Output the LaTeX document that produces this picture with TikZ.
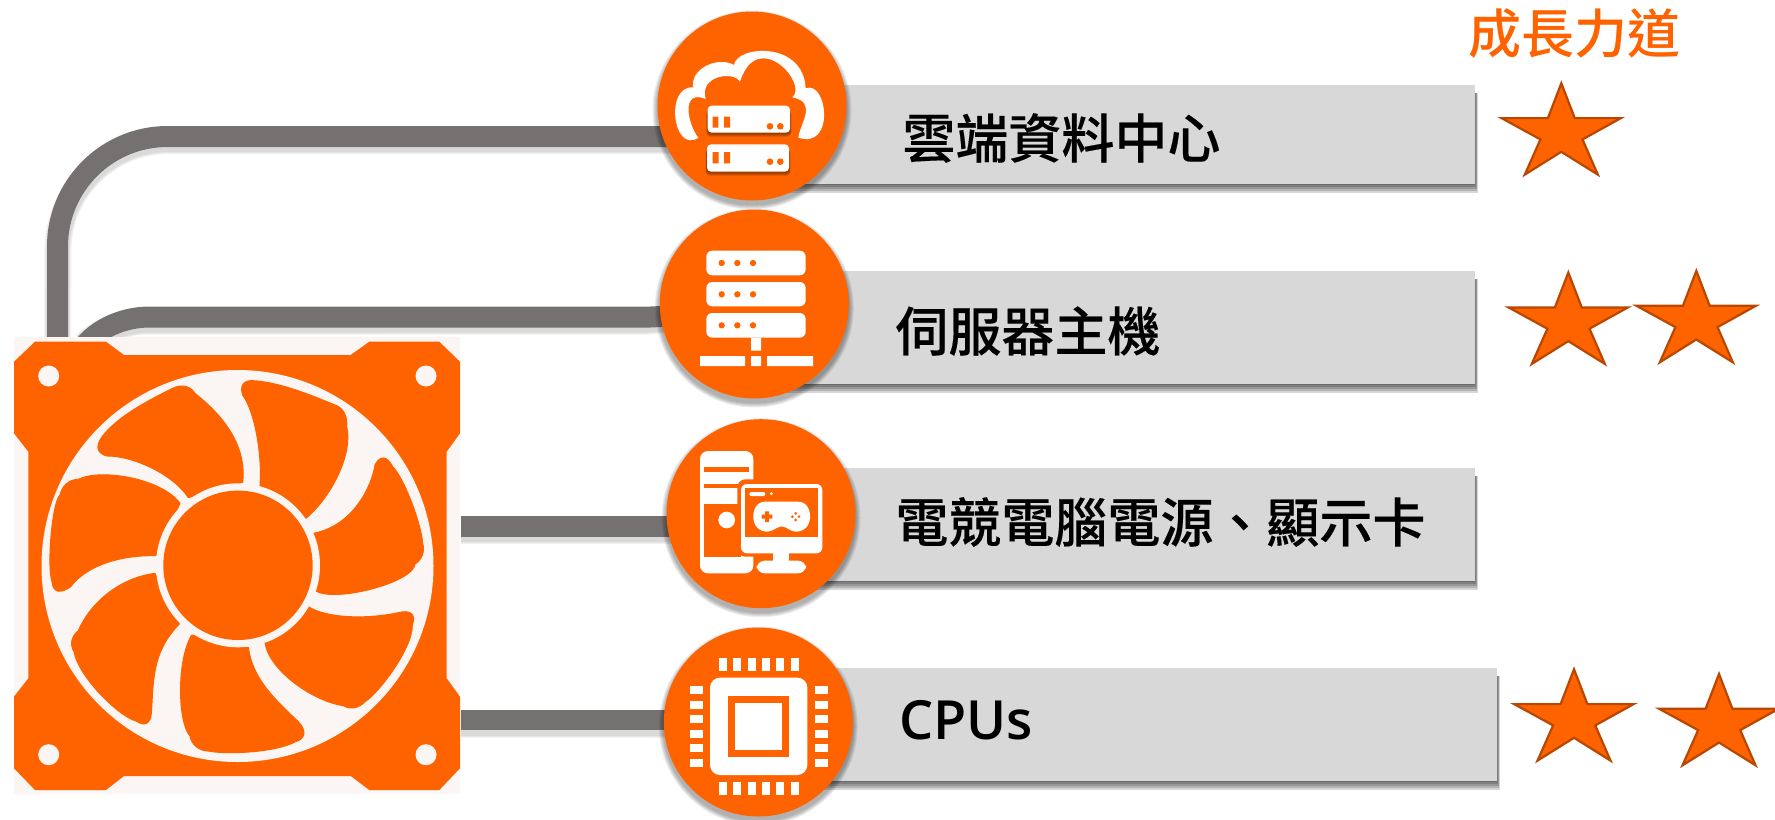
\documentclass[tikz,border=0pt]{standalone}
\usepackage{fontspec}
\setmainfont{Noto Sans CJK TC}
\newfontfamily\labelfont{Noto Sans CJK TC Medium}[FakeBold=0.3]
\newfontfamily\medfont{Noto Sans CJK TC Medium}
\newfontfamily\latinfont{Open Sans Semibold}
\usetikzlibrary{backgrounds,calc}
\definecolor{hot}{HTML}{FF6300}
\definecolor{wire}{HTML}{767171}
\definecolor{barfill}{HTML}{D8D8D8}
\definecolor{fanbg}{HTML}{FBF6F3}
\definecolor{staredge}{HTML}{B94700}
\definecolor{rackshadow}{HTML}{7A3000}
\tikzset{
  x=0.5pt,y=-0.5pt,
  wireline/.style={draw=wire,line width=10.5pt},
  hubdisc/.style={circle,fill=hot,minimum size=94.5pt,inner sep=0pt},
  barbox/.style={rectangle,fill=barfill,anchor=north west,inner sep=0pt},
  barlabel/.style={anchor=west,inner sep=0pt,font=\labelfont\fontsize{26.5}{26.5}\selectfont},
  starshape/.style={fill=hot,draw=staredge,line width=1.1pt,miter limit=10},
  hotbit/.style={fill=hot,draw=none},
  bladeshape/.style={fill=hot,draw=hot,line width=.5pt,line join=round},
  softwire/.style={draw=black,opacity=.05},
}
% five-pointed star, apex at #1
\newcommand{\starat}[1]{\draw[starshape,shift={#1}] (0,3.25)--(13.4,38.1)--(59.6,38.1)--(21.2,59.4)--(36.5,94.6)--(0,71.8)--(-36.5,94.6)--(-20.9,59.4)--(-59.8,38.1)--(-13.4,38.1)--cycle;}
% soft shadow of a rectangle: mostly under it, a little to the right
\newcommand{\rectshadow}[4]{\foreach \k in {9,7,5,3,1}{\fill[black,opacity=.16] (#1,#2+8) rectangle ($(#3,#4)+(\k/3,\k)$);}}
\newcommand{\discshadow}[2]{\foreach \k in {5,4,3,2,1}{\fill[black,opacity=.07] (#1,#2) ++(0,4) circle[radius=94.5+\k];}}
% cubic through four points (at t=0,1/3,2/3,1)
\newcommand{\bez}[4]{.. controls ($3*(#2)-0.83333*(#1)-1.5*(#3)+0.33333*(#4)$) and ($3*(#3)+0.33333*(#1)-1.5*(#2)-0.83333*(#4)$) .. (#4)}
% round corner from #1 to #3 around the vertex #2
\newcommand{\cor}[3]{.. controls ($(#1)!.6!(#2)$) and ($(#3)!.6!(#2)$) .. (#3)}
\begin{document}
\begin{tikzpicture}
\useasboundingbox (0,0) rectangle (1775,819);
\foreach \x/\y in {752/106,754.3/304,761/513.7,758.3/722}{\discshadow{\x}{\y}}
\node[hubdisc] (c1) at (752,106) {};
\node[hubdisc] (c2) at (754.3,304) {};
\node[hubdisc] (c3) at (761,513.7) {};
\node[hubdisc] (c4) at (758.3,722) {};
\node[rectangle,fill=fanbg,inner sep=0pt,minimum width=223pt,minimum height=228.5pt,anchor=north west] (fan) at (14,337) {};
\begin{pgfonlayer}{background}
  \coordinate (w1s) at (57.5,337);
  \coordinate (w2s) at (85,345);
  \foreach \w in {13.5,12.5,11.5}{
    \draw[softwire,line width=\w pt,shift={(1,4)},rounded corners=55pt] (w1s) -- (57.5,136.5) -- (c1.center |- 0,136.5);
    \draw[softwire,line width=\w pt,shift={(0,4)}] (w2s) .. controls (100,327) and (125,317) .. (150,317) -- (635,317) .. controls (650,317) and (660,319) .. (c2.center);
    \draw[softwire,line width=\w pt,shift={(0,4)}] (fan.east |- 0,526) -- (c3.center |- 0,526);
    \draw[softwire,line width=\w pt,shift={(0,4)}] (fan.east |- 0,720) -- (c4.center |- 0,720);
  }
  \draw[wireline,rounded corners=55pt] (w1s) -- (57.5,136.5) -- (c1.center |- 0,136.5);
  \draw[wireline] (w2s) .. controls (100,327) and (125,317) .. (150,317) -- (635,317) .. controls (650,317) and (660,319) .. (c2.center);
  \draw[wireline] (fan.east |- 0,526) -- (c3.center |- 0,526);
  \draw[wireline,line width=10pt] (fan.east |- 0,720) -- (c4.center |- 0,720);
  \rectshadow{760}{85}{1475}{184}
  \rectshadow{760}{271}{1475}{384}
  \rectshadow{760}{468}{1475}{581}
  \rectshadow{760}{668}{1497}{781}
  \node[barbox,minimum width=357.5pt,minimum height=49.5pt] (b1) at (760,85) {};
  \node[barbox,minimum width=357.5pt,minimum height=56.5pt] (b2) at (760,271) {};
  \node[barbox,minimum width=357.5pt,minimum height=56.5pt] (b3) at (760,468) {};
  \node[barbox,minimum width=368.5pt,minimum height=56.5pt] (b4) at (760,668) {};
\end{pgfonlayer}
% fan frame
\fill[hot] (35,341.7)--(106,341.7)--(124,355)--(350.7,355)--(369.3,341.7)--(439.3,341.7)--(460,361.7)--(460,433.3)--(446.7,451.7)--(446.7,678.3)--(460,696.7)--(460,768.3)--(439.3,790)--(369.3,790)--(350.7,776)--(124,776)--(106,790)--(35,790)--(14,768.3)--(14,696.7)--(28.3,678.3)--(28.3,451.7)--(14,433.3)--(14,361.7)--cycle;
\foreach \x/\y in {48.7/376,426/376,48.7/754.7,426/754.7}{\fill[fanbg] (\x,\y) circle[radius=10.5];}
\fill[fanbg] (237.5,566) circle[radius=196];
\begin{scope}[shift={(0,320)},scale=1/3]
  \path[bladeshape] (780,498) \bez{780,498}{778,400}{760,300}{728,225} \cor{728,225}{712,178}{760,182}
    \bez{760,182}{845,197}{930,225}{1010,257} \cor{1010,257}{1045,272}{1040,320}
    \bez{1040,320}{1035,410}{990,510}{918,595} -- cycle;
  \path[bladeshape] (940,640) \bez{940,640}{1040,590}{1100,510}{1125,435} \cor{1125,435}{1150,385}{1178,440}
    \bez{1178,440}{1215,500}{1250,590}{1268,670} \cor{1268,670}{1280,710}{1245,732}
    \bez{1245,732}{1180,785}{1050,820}{945,812} -- cycle;
  \path[bladeshape] (925,860) \bez{925,860}{1000,885}{1100,890}{1205,876} \cor{1205,876}{1255,868}{1237,915}
    \bez{1237,915}{1210,1000}{1150,1090}{1095,1145} \cor{1095,1145}{1065,1178}{1030,1157}
    \bez{1030,1157}{930,1120}{840,1050}{795,968} -- cycle;
  \path[bladeshape] (745,982) \bez{745,982}{770,1060}{820,1130}{895,1205} \cor{895,1205}{938,1250}{885,1266}
    \bez{885,1266}{800,1290}{700,1298}{625,1293} \cor{625,1293}{578,1292}{570,1248}
    \bez{570,1248}{545,1170}{545,1050}{575,945} -- cycle;
  \path[bladeshape] (538,912) \bez{538,912}{480,1000}{460,1090}{454,1180} \cor{454,1180}{450,1232}{408,1203}
    \bez{408,1203}{340,1160}{265,1080}{222,995} \cor{222,995}{200,960}{235,932}
    \bez{235,932}{290,850}{370,790}{465,760} -- cycle;
  \path[bladeshape] (468,707) \bez{468,707}{370,715}{280,745}{212,800} \cor{212,800}{160,838}{156,785}
    \bez{156,785}{150,700}{160,590}{180,525} \cor{180,525}{190,478}{235,478}
    \bez{235,478}{330,465}{450,490}{540,550} -- cycle;
  \path[bladeshape] (565,533) \bez{565,533}{500,470}{410,425}{322,408} \cor{322,408}{272,398}{305,352}
    \bez{305,352}{370,290}{450,240}{518,205} \cor{518,205}{562,183}{585,220}
    \bez{585,220}{650,280}{710,370}{728,488} -- cycle;
\end{scope}
\fill[fanbg] (238,565.3) circle[radius=82];
\fill[hot] (238,565.3) circle[radius=74.7];
% cloud icon
\begin{scope}[shift={(640,0)},scale=1/3]
  \fill[white] (175,413) \bez{175,413}{118,395}{108,310}{160,262}
    \bez{160,262}{175,215}{225,188}{282,195}
    \bez{282,195}{340,155}{440,170}{497,265}
    \bez{497,265}{545,300}{545,385}{475,413}
    \bez{475,413}{490,365}{497,320}{457,292}
    \bez{457,292}{450,225}{375,175}{300,245}
    \bez{300,245}{260,228}{210,245}{197,297}
    \bez{197,297}{150,305}{150,360}{175,413} -- cycle;
  \foreach \k in {4,3,2,1}{
    \fill[rackshadow,opacity=.3,rounded corners=2pt] (203-\k,330) rectangle (450+\k,398+3*\k);
    \fill[rackshadow,opacity=.3,rounded corners=2pt] (201-\k,446) rectangle (447+\k,515+3*\k);
  }
  \fill[white,rounded corners=2pt] (203,317) rectangle (450,398);
  \fill[white,rounded corners=2pt] (201,433) rectangle (447,515);
  \fill[hotbit] (218,350) rectangle (235,383) (252,350) rectangle (270,383)
     (218,456) rectangle (236,490) (252,456) rectangle (270,490);
  \foreach \x/\y in {390/379,421/379,390/485,421/485}{\fill[hotbit] (\x,\y) circle[radius=10];}
\end{scope}
% server icon
\begin{scope}[shift={(640,0)},scale=1/3]
  \foreach \t/\b/\m in {752/826/789,846/919/883,939/1013/976}{
    \fill[white,rounded corners=3pt] (199,\t) rectangle (497,\b);
    \foreach \x in {245,292,339}{\fill[hotbit] (\x,\m) circle[radius=9.5];}
  }
  \fill[white] (333,1013) rectangle (363,1052) (333,1068) rectangle (363,1098)
     (180,1068) rectangle (315,1098) (381,1068) rectangle (519,1098);
\end{scope}
% gaming icon
\begin{scope}[shift={(650,410)},scale=1/3]
  \fill[white,rounded corners=4pt] (150,123) rectangle (310,490);
  \fill[hotbit] (163,172) rectangle (297,185);
  \fill[hotbit] (163,222) rectangle (273,235);
  \fill[hotbit] (163,283) rectangle (273,440);
  \fill[white] (230,330) circle[radius=25];
  \fill[hot,rounded corners=4pt] (262,208) rectangle (528,440);
  \fill[white,rounded corners=3pt] (273,222) rectangle (517,430);
  \fill[hotbit] (285,233) rectangle (505,380);
  \fill[white,rounded corners=1pt] (298,246) rectangle (346,258);
  \fill[white] (364,251) circle[radius=5];
  \fill[white] (370,430) rectangle (418,455);
  \fill[white,rounded corners=4pt] (320,490) -- (320,452) -- (468,452) -- (468,490) -- cycle;
  \fill[white] (345,275) -- (445,275) .. controls (470,275) and (482,300) .. (480,325)
     .. controls (478,355) and (450,372) .. (425,362)
     .. controls (410,355) and (405,349) .. (395,349)
     .. controls (385,349) and (380,355) .. (365,362)
     .. controls (340,372) and (312,355) .. (310,325)
     .. controls (308,300) and (320,275) .. (345,275) -- cycle;
  \fill[hotbit] (345,304) rectangle (357,336) (335,314) rectangle (367,326);
  \foreach \dx/\dy in {0/-10,-10/0,10/0,0/10}{\fill[hotbit] (437+\dx,320+\dy) circle[radius=4.5];}
\end{scope}
% cpu icon
\begin{scope}[shift={(650,410)},scale=1/3]
  \fill[white,rounded corners=5pt] (180,803) rectangle (472,1095);
  \fill[hotbit] (234,857) rectangle (418,1041);
  \fill[white] (256,879) rectangle (397,1020);
  \foreach \x in {207,249,294,336,378,423}{
    \fill[white] (\x,743) rectangle (\x+24,783);
    \fill[white] (\x,1115) rectangle (\x+24,1155);
  }
  \foreach \y in {828,873,915,960,1002,1047}{
    \fill[white] (120,\y) rectangle (160,\y+24);
    \fill[white] (495,\y) rectangle (535,\y+24);
  }
\end{scope}
% labels
\node[barlabel] (t1) at (902,138) {雲端資料中心};
\node[barlabel] (t2) at (895,331) {伺服器主機};
\node[barlabel] (t3) at (895,522) {電競電腦電源、顯示卡};
\node[barlabel,font=\latinfont\fontsize{27}{27}\selectfont] (t4) at (899,720) {CPUs};
\node[anchor=center,inner sep=0pt,text=hot,font=\medfont\fontsize{26.5}{26.5}\selectfont] (head) at (1574,34) {成長力道};
% stars
\starat{(1561.3,80)}
\starat{(1568.3,269.3)}
\starat{(1696.3,267.7)}
\starat{(1574,666)}
\starat{(1719,670.7)}
\end{tikzpicture}
\end{document}
